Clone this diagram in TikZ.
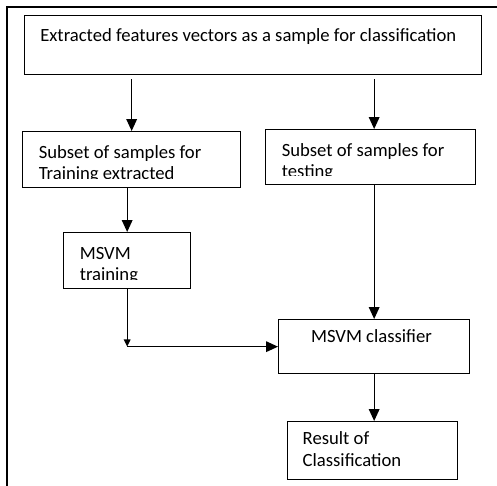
\documentclass[tikz,border=0pt]{standalone}
\usepackage{fontspec}
\setmainfont{Carlito}
\usetikzlibrary{arrows.meta,positioning}

\begin{document}
\begin{tikzpicture}[
        x=0.75pt, y=-0.75pt,
        every node/.style={font=\fontsize{14}{16.3}\selectfont},
        box/.style={draw, line width=1pt, anchor=north west, inner sep=0pt},
        txt/.style={anchor=base west, align=left, inner sep=0pt, minimum size=0pt},
        % two lines of text, cut off by the lower border
        cuttext/.style 2 args={path picture={
            \clip (path picture bounding box.north west)
              rectangle ([yshift=7.1pt]path picture bounding box.south east);
            \node[txt] (#1) at ([xshift=11.6pt, yshift=-36.2pt]path picture bounding box.north west) {#2};}},
        arr/.style={line width=1pt, -{Triangle[length=9pt, width=8pt]}},
        smallarr/.style={line width=1pt, -{Triangle[length=5.5pt, width=5pt]}}
      ]
      \useasboundingbox (0,0) rectangle (497,486);
      % outer frame, cut off at the right and bottom
      \draw[line width=1.5pt] (7,486) -- (7,7) -- (497,7);

      % boxes
      \node[box, minimum width=342.75pt, minimum height=44.25pt] (ext) at (24,15) {};
      \node[txt] (exttxt) at ([xshift=12pt, yshift=-19.9pt]ext.north west) {Extracted features vectors as a sample for classification};
      \node[box, minimum width=163.5pt, minimum height=42pt,
        cuttext={trainsettxt}{Subset of samples for\\Training extracted}] (trainset) at (22,131) {};
      \node[box, minimum width=157.5pt, minimum height=41.25pt,
        cuttext={testsettxt}{Subset of samples for\\testing}] (testset) at (265,129) {};
      \node[box, minimum width=95.25pt, minimum height=42pt,
        cuttext={mtraintxt}{MSVM\\training}] (mtrain) at (63,232) {};
      \node[box, minimum width=143.25pt, minimum height=40.5pt] (mclass) at (278,319) {};
      \node[txt, anchor=base] (mclasstxt) at ([xshift=-2pt, yshift=-17.25pt]mclass.north) {MSVM classifier};
      \node[box, minimum width=127.5pt, minimum height=43.5pt] (result) at (287,421) {};
      \node[txt] (resulttxt) at ([xshift=11.6pt, yshift=-34pt]result.north west) {Result of\\Classification};

      % connectors
      \coordinate (bend) at (mtrain.south |- mclass.west);
      \draw[arr, shorten <=3pt] (ext.south -| trainset.north) -- (trainset.north);
      \draw[arr, shorten <=3pt] (ext.south -| mclass.north) -- (testset.north -| mclass.north);
      \draw[arr] (trainset.south -| mtrain.north) -- (mtrain.north);
      \draw[arr] (testset.south -| mclass.north) -- (mclass.north);
      \draw[smallarr] (mtrain.south) -- (bend);
      \draw[arr] (bend) -- (mclass.west);
      \draw[arr] (mclass.south) -- (result.north -| mclass.south);
    \end{tikzpicture}
\end{document}
